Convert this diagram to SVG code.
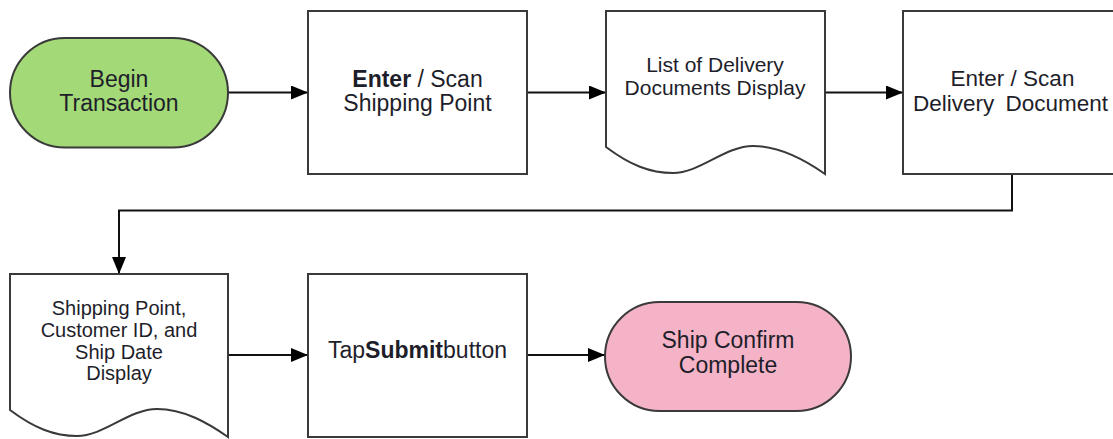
<svg xmlns="http://www.w3.org/2000/svg" width="1113" height="439" viewBox="0 0 1113 439">
<defs>
<style>
.shape{stroke:#3a3a3a;stroke-width:2;}
.box{fill:#ffffff;}
.t{font-family:"Liberation Sans",Arial,sans-serif;fill:#1e1e2a;text-anchor:middle;}
.f23{font-size:23px;}
.f22{font-size:22.5px;}
.f21{font-size:21px;}
.f20{font-size:20px;}
.b{font-weight:bold;}
.conn{fill:none;stroke:#111;stroke-width:2;}
</style>
<marker id="arrow" markerWidth="17" markerHeight="14" refX="17" refY="7" orient="auto" markerUnits="userSpaceOnUse">
<path d="M0,0 L17,7 L0,14 Z" fill="#000"/>
</marker>
</defs>
<rect width="1113" height="439" fill="#ffffff"/>

<g id="connectors">
<line class="conn" x1="228" y1="92.5" x2="308" y2="92.5" marker-end="url(#arrow)"/>
<line class="conn" x1="527" y1="92.5" x2="606" y2="92.5" marker-end="url(#arrow)"/>
<line class="conn" x1="825" y1="92.5" x2="903" y2="92.5" marker-end="url(#arrow)"/>
<polyline class="conn" points="1012,174 1012,210.5 119,210.5 119,274" marker-end="url(#arrow)"/>
<line class="conn" x1="228" y1="355" x2="308" y2="355" marker-end="url(#arrow)"/>
<line class="conn" x1="527" y1="355" x2="605" y2="355" marker-end="url(#arrow)"/>
</g>

<g id="begin">
<rect class="shape" x="10" y="38" width="218" height="109.5" rx="54.75" ry="54.75" fill="#a3d977"/>
<text class="t f23" x="119" y="86.5">Begin</text>
<text class="t f23" x="119" y="110.5">Transaction</text>
</g>

<g id="scan-shipping">
<rect class="shape box" x="308" y="11" width="219" height="163"/>
<text class="t f23" x="417.5" y="86.5"><tspan class="b">Enter</tspan> / Scan</text>
<text class="t f23" x="417.5" y="110.5">Shipping Point</text>
</g>

<g id="list-delivery">
<path class="shape box" d="M606,11 H825 V174 C805,160 780,146 753,146 C725,146 700,173 673,173 C650,173 630,165 606,147 Z"/>
<text class="t f21" x="715" y="72">List of Delivery</text>
<text class="t f21" x="715" y="95">Documents Display</text>
</g>

<g id="scan-delivery">
<rect class="shape box" x="903" y="11" width="219" height="163"/>
<text class="t f22" x="1012.5" y="86">Enter / Scan</text>
<text class="t f22" x="913" y="110.5" style="text-anchor:start;word-spacing:5px">Delivery Document</text>
</g>

<g id="ship-display">
<path class="shape box" d="M10,274 H228 V437 C208,423 184,409 157,409 C129,409 104,436 77,436 C54,436 34,428 10,410 Z"/>
<text class="t f20" x="119" y="315">Shipping Point,</text>
<text class="t f20" x="119" y="337">Customer ID, and</text>
<text class="t f20" x="119" y="359">Ship Date</text>
<text class="t f20" x="119" y="380">Display</text>
</g>

<g id="tap-submit">
<rect class="shape box" x="308" y="274" width="219" height="163"/>
<text class="t f23" x="417.5" y="358">Tap<tspan class="b">Submit</tspan>button</text>
</g>

<g id="ship-complete">
<rect class="shape" x="605" y="302" width="246" height="109" rx="54.5" ry="54.5" fill="#f4b3c6"/>
<text class="t f23" x="728" y="348">Ship Confirm</text>
<text class="t f23" x="728" y="373">Complete</text>
</g>
</svg>
